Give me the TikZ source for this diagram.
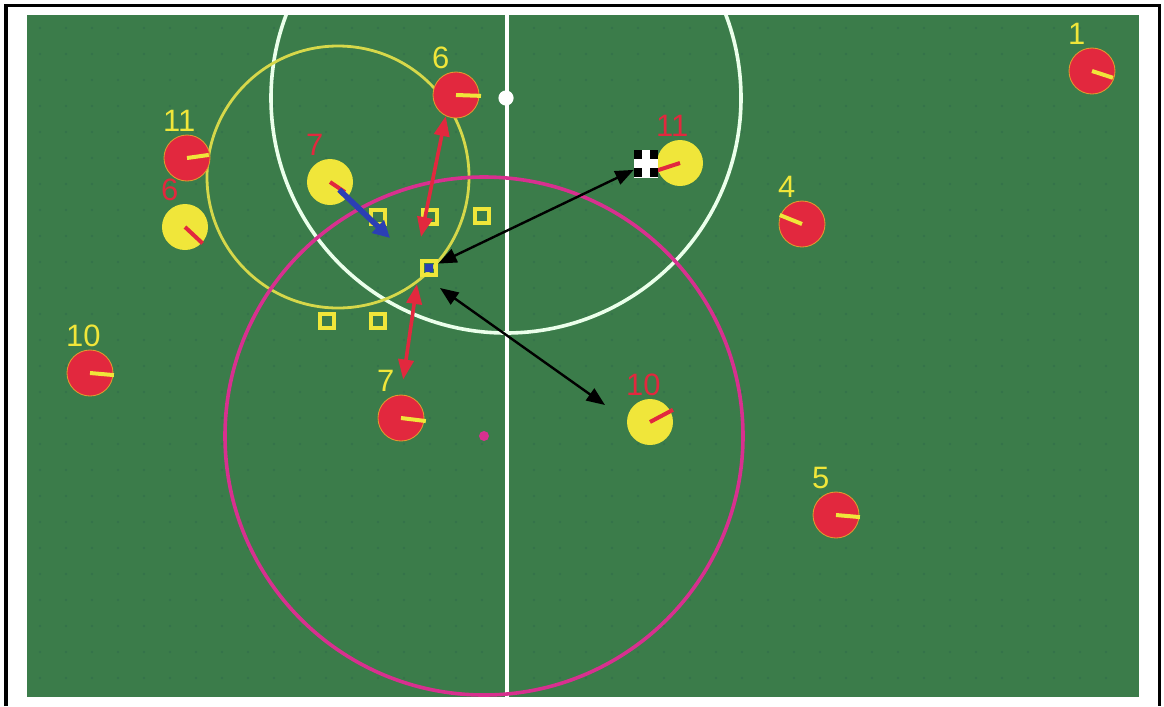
\documentclass[tikz,border=0pt]{standalone}
\usepackage{fontspec}
\setmainfont{Liberation Sans}
\usepackage{xcolor}
\usepackage{tikz}
\usetikzlibrary{arrows.meta, calc}
\definecolor{pitch}{HTML}{3B7C4A}
\definecolor{pitchdot}{HTML}{33704A}
\definecolor{redteam}{HTML}{E2283E}
\definecolor{yelteam}{HTML}{F0E63A}
\definecolor{rimcolor}{HTML}{E39A2E}
\definecolor{zonecolor}{HTML}{D6D84A}
\definecolor{reachcolor}{HTML}{D8308F}
\definecolor{runcolor}{HTML}{2B3FB4}

\begin{document}
\begin{tikzpicture}[
  x=0.025cm, y=-0.025cm,
  numtag/.style={anchor=south west, inner sep=0pt, xshift=-5.4pt, yshift=6.8pt,
                 font=\fontsize{22}{22}\selectfont},
  redbot/.style={circle, fill=redteam, draw=rimcolor, line width=0.6pt,
                 minimum size=1.15cm, inner sep=0pt,
                 label={[numtag, text=yelteam]north west:#1}},
  yelbot/.style={circle, fill=yelteam, minimum size=1.15cm, inner sep=0pt,
                 label={[numtag, text=redteam]north west:#1}},
  hdy/.style={yelteam, line width=0.1cm},
  hdr/.style={redteam, line width=0.1cm},
  spot/.style={rectangle, draw=yelteam, line width=0.1cm,
               minimum size=0.36cm, inner sep=0pt},
  marker/.style={path picture={
      \fill[runcolor] ([shift={(-4,-4)}]path picture bounding box.center)
        rectangle ([shift={(4,4)}]path picture bounding box.center);}},
  ball/.style={rectangle, fill=white, minimum width=0.6cm, minimum height=0.68cm,
               inner sep=0pt, path picture={
      \foreach \i/\j in {0/0,2/0,0/2,2/2}
        \fill[black] ($(path picture bounding box.north west)+(\i*8,\j*9)$)
          rectangle ++(8,9);}},
  runarrow/.style={-{Triangle[length=0.42cm, width=0.42cm]}, line width=0.14cm,
                   color=runcolor},
  markarrow/.style={{Triangle[length=0.5cm, width=0.38cm]}-{Triangle[length=0.5cm, width=0.38cm]},
                    line width=0.09cm, color=redteam},
  passarrow/.style={{Triangle[length=0.46cm, width=0.36cm]}-{Triangle[length=0.46cm, width=0.36cm]},
                    line width=0.06cm, color=black},
]
\useasboundingbox (0,0) rectangle (1164,706);

%% frame and pitch
\fill[white] (0,0) rectangle (1164,706);
\draw[black, line width=0.075cm] (6,706) -- (6,5) -- (1159,5) -- (1159,706);
\fill[pitch] (27,15) rectangle (1139,697);
\foreach \x in {40,66,...,1130}
  \foreach \y in {28,54,...,690}
    \fill[pitchdot] (\x,\y) circle (1.2);

%% markings and ranges
\node[circle, fill=white, minimum size=0.38cm, inner sep=0pt] (kick) at (506,98) {};
\node[circle, fill=reachcolor, minimum size=0.25cm, inner sep=0pt] (reach) at (484,436) {};
\coordinate (zone) at (338,177);
\begin{scope}
  \clip (27,15) rectangle (1139,697);
  \draw[white, line width=0.09cm] (507,15) -- (507,697);
  \draw[white!92!green, line width=0.09cm] (kick.center) circle (235);
  \draw[zonecolor, line width=0.07cm] (zone) circle (131);
  \draw[reachcolor, line width=0.09cm] (reach.center) circle (259);
\end{scope}

%% candidate spots
\node[spot] (s1) at (378,217) {};
\node[spot] (s2) at (430,217) {};
\node[spot] (s3) at (482,216) {};
\node[spot] (s4) at (327,321) {};
\node[spot] (s5) at (378,321) {};
\node[spot, marker] (m) at (429,268) {};

%% yellow team
\node[yelbot=6]  (y6)  at (185,227) {};
\node[yelbot=7]  (y7)  at (330,182) {};
\node[yelbot=11] (y11) at (680,163) {};
\node[yelbot=10] (y10) at (650,422) {};

%% red team
\node[redbot=10] (r10) at (90,373) {};
\node[redbot=11] (r11) at (187,158) {};
\node[redbot=6]  (r6)  at (456,95) {};
\node[redbot=1]  (r1)  at (1092,71) {};
\node[redbot=4]  (r4)  at (802,224) {};
\node[redbot=5]  (r5)  at (836,515) {};
\node[redbot=7]  (r7)  at (401,418) {};

%% headings
\draw[hdy] (r10.center) -- ++(5:24);
\draw[hdy] (r11.center) -- ++(-8:22);
\draw[hdy] (r6.center)  -- ++(2:25);
\draw[hdy] (r1.center)  -- ++(18:22);
\draw[hdy] (r4.center)  -- ++(202:24);
\draw[hdy] (r5.center)  -- ++(5:24);
\draw[hdy] (r7.center)  -- ++(7:25);
\draw[hdr] (y7.center)  -- ++(34:18);
\draw[hdr] (y6.center)  -- ++(43:24);
\draw[hdr] (y11.center) -- ++(162:24);
\draw[hdr] (y10.center) -- ++(-28:26);

%% ball
\node[ball] (ball) at (646,164) {};

%% arrows
\coordinate (runTo)   at (390,238);
\coordinate (covA)    at (421,237);
\coordinate (covB)    at (417,284);
\coordinate (markOut) at (440,288);
\coordinate (y10In)   at (605,405);
\draw[runarrow] (y7.center) ++(40:12) -- (runTo);
\draw[markarrow] (r6.244) -- (covA);
\draw[markarrow, shorten >=0.38cm] (covB) -- (r7.north);
\draw[passarrow] (m) -- (ball);
\draw[passarrow] (markOut) -- (y10In);

\end{tikzpicture}
\end{document}
